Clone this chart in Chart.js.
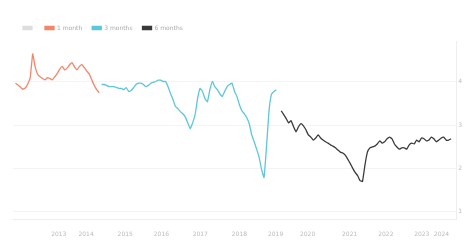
<!DOCTYPE html>
<html>
<head>
<meta charset="utf-8">
<script src="https://cdn.jsdelivr.net/npm/chart.js@4"></script>
<style>
html,body{margin:0;padding:0;background:#fff;}
#wrap{width:470px;height:245px;}
</style>
</head>
<body>
<div id="wrap"><canvas id="c" width="470" height="245"></canvas></div>
<script>
const seriesLabels = ['', '1 month', '3 months', '6 months'];
const seriesColors = ['#dddddd', '#f3866a', '#5cc6da', '#3a3a3a'];

const orangeStart = 1;
const orangeValues = [3.97,3.93,3.88,3.83,3.86,3.95,4.10,4.65,4.35,4.18,4.12,4.08,4.05,4.10,4.08,4.05,4.12,4.20,4.30,4.36,4.28,4.32,4.40,4.45,4.35,4.28,4.36,4.40,4.33,4.25,4.18,4.05,3.92,3.82,3.75];

const cyanStart = 36;
const cyanValues = [3.94,3.94,3.92,3.89,3.89,3.89,3.87,3.85,3.85,3.82,3.87,3.78,3.80,3.87,3.94,3.97,3.97,3.94,3.89,3.92,3.97,3.99,4.01,4.04,4.04,4.01,4.01,3.89,3.73,3.59,3.43,3.38,3.31,3.26,3.19,3.05,2.91,3.05,3.24,3.61,3.85,3.78,3.61,3.54,3.82,4.01,3.89,3.82,3.73,3.66,3.78,3.89,3.94,3.97,3.78,3.66,3.47,3.33,3.26,3.17,3.03,2.77,2.61,2.44,2.25,1.97,1.78,2.49,3.31,3.71,3.78,3.82];

const blackStart = 109;
const blackValues = [3.33,3.24,3.15,3.05,3.10,2.96,2.84,2.96,3.03,2.98,2.89,2.77,2.72,2.65,2.70,2.77,2.70,2.65,2.61,2.58,2.54,2.51,2.47,2.42,2.37,2.35,2.30,2.21,2.11,2.00,1.90,1.83,1.71,1.69,2.07,2.37,2.47,2.49,2.51,2.56,2.63,2.58,2.61,2.68,2.72,2.68,2.56,2.49,2.44,2.47,2.47,2.44,2.54,2.58,2.56,2.65,2.61,2.70,2.68,2.63,2.65,2.72,2.68,2.61,2.65,2.70,2.72,2.65,2.65,2.68];

const xTickValues = [18.6, 29.7, 45.6, 60.3, 76.1, 92.0, 106.7, 119.7, 136.8, 151.5, 166.1, 174.1];
const xTickLabels = ['2013','2014','2015','2016','2017','2018','2019','2020','2021','2022','2023','2024'];
const yTickValues = [1, 2, 3, 4];

function toPoints(start, values) {
  return values.map((v, i) => ({x: start + i, y: v}));
}

const ds = (i, data) => ({
  label: seriesLabels[i],
  data: data,
  borderColor: seriesColors[i],
  backgroundColor: seriesColors[i],
  borderWidth: 1.3,
  pointRadius: 0,
  tension: 0.1,
  fill: false
});

new Chart(document.getElementById('c'), {
  type: 'line',
  data: {
    datasets: [
      ds(0, []),
      ds(1, toPoints(orangeStart, orangeValues)),
      ds(2, toPoints(cyanStart, cyanValues)),
      ds(3, toPoints(blackStart, blackValues))
    ]
  },
  options: {
    responsive: false,
    animation: false,
    layout: {padding: {top: 15, left: 13, right: 2, bottom: 4}},
    plugins: {
      legend: {
        align: 'start',
        labels: {boxWidth: 9, boxHeight: 3, font: {size: 6, family: 'DejaVu Sans'}, color: '#aaa', padding: 10}
      },
      tooltip: {enabled: false}
    },
    scales: {
      x: {
        type: 'linear', min: 0, max: 180,
        grid: {display: false},
        border: {color: '#eee'},
        afterBuildTicks: (a) => { a.ticks = xTickValues.map(v => ({value: v})); },
        ticks: {
          autoSkip: false, maxRotation: 0,
          font: {size: 6, family: 'DejaVu Sans'}, color: '#bbb',
          callback: (v, i) => xTickLabels[i]
        }
      },
      y: {
        position: 'right', min: 0.8, max: 4.95,
        grid: {color: '#f4f4f4', drawTicks: false},
        border: {color: '#eee'},
        afterBuildTicks: (a) => { a.ticks = yTickValues.map(v => ({value: v})); },
        ticks: {mirror: true, padding: 6, font: {size: 6, family: 'DejaVu Sans'}, color: '#bbb'}
      }
    }
  }
});
</script>
</body>
</html>
